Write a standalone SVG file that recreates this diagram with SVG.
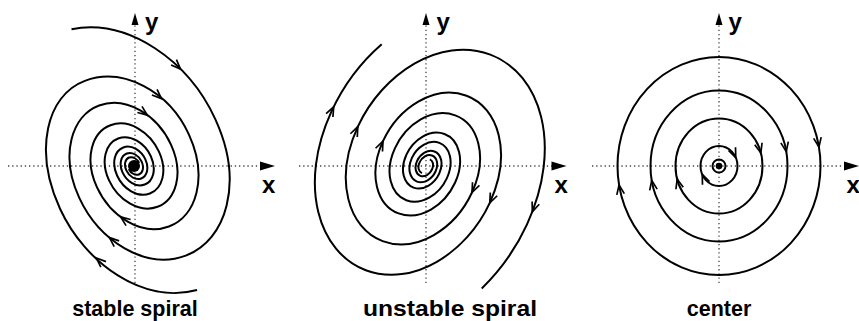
<svg xmlns="http://www.w3.org/2000/svg" xmlns:xlink="http://www.w3.org/1999/xlink" width="859" height="321" viewBox="0 0 859 321">
<style>
  .axis{stroke:#444;stroke-width:1.3;stroke-dasharray:1.3 2.9;fill:none}
  .traj{fill:none;stroke:#000;stroke-width:2}
  .ah{fill:none;stroke:#000;stroke-width:1.7;stroke-linejoin:miter}
  .head{fill:#000}
  .lbl{font-family:"Liberation Sans",Arial,Helvetica,sans-serif;font-weight:bold;font-size:24px;fill:#000}
  .cap{font-family:"Liberation Sans",Arial,Helvetica,sans-serif;font-weight:bold;font-size:21.5px;fill:#000;text-anchor:middle}
</style>
<defs>
  <path id="chev" d="M-9.5,-3.8 L0,0 L-9.5,3.8"/>
  <path id="xhead" d="M0,0 L-15,-4.5 L-15,4.5 Z"/>
  <path id="yhead" d="M0,0 L-3.5,12 L3.5,12 Z"/>
</defs>

<g id="stable-spiral">
  <g id="stable-axes">
    <line class="axis" x1="8" y1="166" x2="261" y2="166"/>
    <line class="axis" x1="135" y1="283" x2="135" y2="25"/>
    <use href="#xhead" class="head" transform="translate(275,166)"/>
    <use href="#yhead" class="head" transform="translate(135,13)"/>
    <text class="lbl" x="145" y="30">y</text>
    <text class="lbl" x="262" y="193">x</text>
  </g>
  <g id="stable-trajectories">
    <path class="traj" vector-effect="non-scaling-stroke" transform="translate(134,166) rotate(60) scale(1.45,1.08)" d="M-103.26,-13.23 C-90.09,-64.35 -43.73,-92.38 0,-86.89 C48,-80.88 76.31,-39.42 71.37,0 S32.38,62.68 0,58.62 S-51.47,26.59 -48.14,0 S-21.84,-42.28 0,-39.54 S34.72,-17.93 32.47,0 S14.73,28.52 0,26.67 S-23.43,12.1 -21.91,0 S-9.94,-19.23 0,-17.99 S15.8,-8.16 14.78,0 S6.7,12.98 0,12.14 S-10.66,5.51 -9.97,0 S-4.52,-8.76 0,-8.19 S7.19,-3.71 6.72,0 S3.05,5.9 0,5.52"/>
    <path class="traj" vector-effect="non-scaling-stroke" transform="translate(134,166) rotate(60) scale(1.45,1.08) rotate(180)" d="M-95.8,-6.85 C-85.98,-56.69 -41.54,-84.3 0,-79.1 C43.69,-73.63 72.49,-37.45 67.8,0 S32.38,62.68 0,58.62 S-51.47,26.59 -48.14,0 S-21.84,-42.28 0,-39.54 S34.72,-17.93 32.47,0 S14.73,28.52 0,26.67 S-23.43,12.1 -21.91,0 S-9.94,-19.23 0,-17.99 S15.8,-8.16 14.78,0 S6.7,12.98 0,12.14 S-10.66,5.51 -9.97,0 S-4.52,-8.76 0,-8.19 S7.19,-3.71 6.72,0 S3.05,5.9 0,5.52"/>
    <circle cx="134" cy="166" r="6" fill="#000"/>
  </g>
  <g id="stable-arrows" class="ah">
    <use href="#chev" transform="translate(180.5,69.1) rotate(44.9)"/>
    <use href="#chev" transform="translate(161.5,98.6) rotate(42.6)"/>
    <use href="#chev" transform="translate(147.3,115.1) rotate(36.8)"/>
    <use href="#chev" transform="translate(120.7,216.9) rotate(216.8)"/>
    <use href="#chev" transform="translate(109.4,237.6) rotate(220.2)"/>
    <use href="#chev" transform="translate(96.4,258) rotate(222.6)"/>
  </g>
  <text class="cap" x="135" y="315.5">stable spiral</text>
</g>

<g id="unstable-spiral">
  <g id="unstable-axes">
    <line class="axis" x1="299" y1="166" x2="552" y2="166"/>
    <line class="axis" x1="426" y1="283" x2="426" y2="25"/>
    <use href="#xhead" class="head" transform="translate(566.5,166)"/>
    <use href="#yhead" class="head" transform="translate(426,13)"/>
    <text class="lbl" x="436.5" y="30">y</text>
    <text class="lbl" x="554.5" y="193">x</text>
  </g>
  <g id="unstable-trajectories">
    <path class="traj" vector-effect="non-scaling-stroke" transform="translate(426,166) scale(-1.163,1.163) rotate(60) scale(1.45,1.08)" d="M-49.39,-79.03 C-33.42,-86.43 -16.28,-88.93 0,-86.89 C48,-80.88 76.31,-39.42 71.37,0 S32.38,62.68 0,58.62 S-51.47,26.59 -48.14,0 S-21.84,-42.28 0,-39.54 S34.72,-17.93 32.47,0 S14.73,28.52 0,26.67 S-23.43,12.1 -21.91,0 S-9.94,-19.23 0,-17.99 S15.8,-8.16 14.78,0 S6.7,12.98 0,12.14 S-10.66,5.51 -9.97,0 S-4.52,-8.76 0,-8.19 S7.19,-3.71 6.72,0 S3.05,5.9 0,5.52 S-4.84,2.5 -4.53,0"/>
    <path class="traj" vector-effect="non-scaling-stroke" transform="translate(426,166) scale(-1.243,1.243) rotate(60) scale(1.45,1.08) rotate(180)" d="M-43.37,-81.56 C-29.13,-86.99 -14.22,-88.67 0,-86.89 C48,-80.88 76.31,-39.42 71.37,0 S32.38,62.68 0,58.62 S-51.47,26.59 -48.14,0 S-21.84,-42.28 0,-39.54 S34.72,-17.93 32.47,0 S14.73,28.52 0,26.67 S-23.43,12.1 -21.91,0 S-9.94,-19.23 0,-17.99 S15.8,-8.16 14.78,0 S6.7,12.98 0,12.14 S-10.66,5.51 -9.97,0 S-4.52,-8.76 0,-8.19 S7.19,-3.71 6.72,0 S3.05,5.9 0,5.52 S-4.84,2.5 -4.53,0"/>
  </g>
  <g id="unstable-arrows" class="ah">
    <use href="#chev" transform="translate(333.7,106.8) rotate(-63.8)"/>
    <use href="#chev" transform="translate(357.8,126.7) rotate(-65.3)"/>
    <use href="#chev" transform="translate(383,141.2) rotate(-65.3)"/>
    <use href="#chev" transform="translate(472,192.5) rotate(114.7)"/>
    <use href="#chev" transform="translate(489.8,202.8) rotate(114.7)"/>
    <use href="#chev" transform="translate(532.3,211.8) rotate(110.9)"/>
  </g>
  <text class="cap" x="450" y="315.5" textLength="174" lengthAdjust="spacingAndGlyphs">unstable spiral</text>
</g>

<g id="center">
  <g id="center-axes">
    <line class="axis" x1="592" y1="166" x2="845" y2="166"/>
    <line class="axis" x1="719" y1="283" x2="719" y2="25"/>
    <use href="#xhead" class="head" transform="translate(859,166)"/>
    <use href="#yhead" class="head" transform="translate(719,13)"/>
    <text class="lbl" x="728.5" y="30">y</text>
    <text class="lbl" x="846.5" y="193">x</text>
  </g>
  <g id="center-orbits" class="traj">
    <ellipse cx="719" cy="166" rx="101.5" ry="109"/>
    <ellipse cx="719" cy="166" rx="68.5" ry="75.5"/>
    <ellipse cx="719" cy="166" rx="43.5" ry="47.5"/>
    <ellipse cx="719" cy="166" rx="18.5" ry="20"/>
    <circle cx="719" cy="166" r="6.5"/>
  </g>
  <circle cx="719" cy="166" r="3.3" fill="#000"/>
  <g id="center-arrows" class="ah">
    <use href="#chev" transform="translate(818.96,147.08) rotate(80.7)"/>
    <use href="#chev" transform="translate(619.04,184.92) rotate(260.7)"/>
    <use href="#chev" transform="translate(786.24,151.59) rotate(80)"/>
    <use href="#chev" transform="translate(651.76,180.41) rotate(260)"/>
    <use href="#chev" transform="translate(760.82,152.91) rotate(75.3)"/>
    <use href="#chev" transform="translate(677.18,179.09) rotate(255.3)"/>
    <use href="#chev" transform="translate(735.77,157.55) rotate(66.7)"/>
    <use href="#chev" transform="translate(702.23,174.45) rotate(246.7)"/>
  </g>
  <text class="cap" x="719" y="315.5">center</text>
</g>
</svg>
